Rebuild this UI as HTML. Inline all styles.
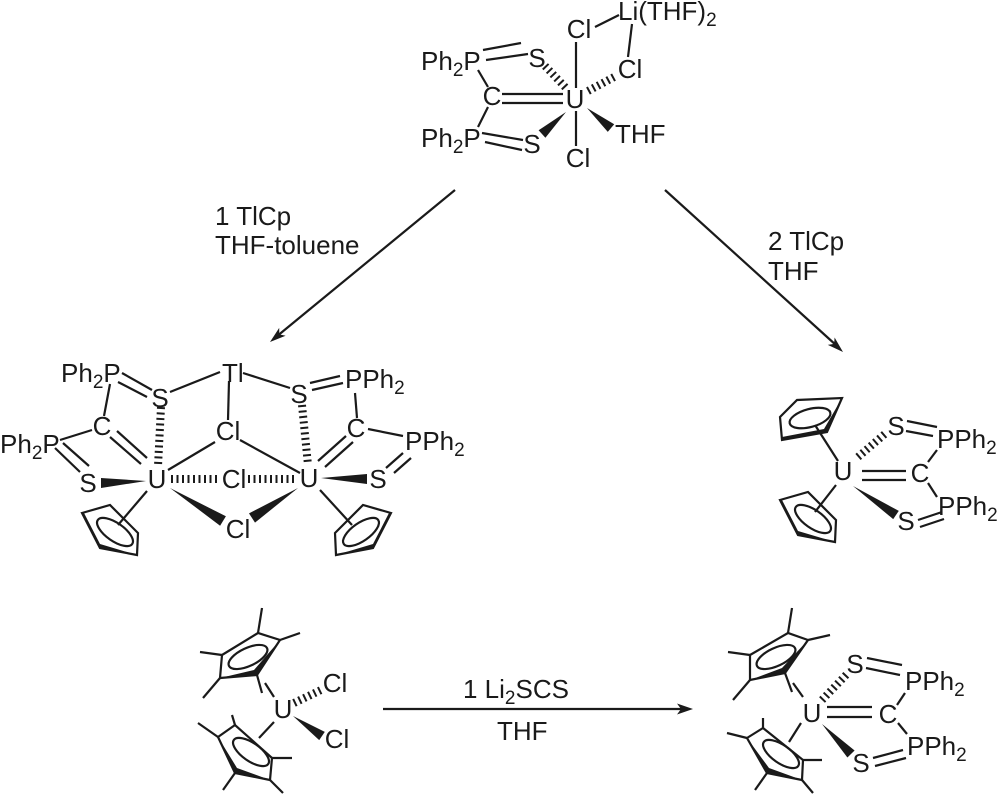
<!DOCTYPE html>
<html><head><meta charset="utf-8"><style>
html,body{margin:0;padding:0;background:#fff;}
svg{display:block;}
text{font-family:"Liberation Sans",Arial,sans-serif;font-size:26px;fill:#1a1a1a;}
.s{font-size:19px;}
</style></head><body>
<svg width="1000" height="796" viewBox="0 0 1000 796" xmlns="http://www.w3.org/2000/svg">
<g stroke="#1a1a1a" stroke-width="2.2" fill="none" stroke-linecap="butt">
<!-- ===== TOP ===== -->
<line x1="483" y1="50" x2="521" y2="43"/>
<line x1="486" y1="60" x2="528" y2="54"/>
<line x1="502" y1="94" x2="563" y2="94"/>
<line x1="502" y1="103" x2="563" y2="103"/>
<line x1="482" y1="133" x2="523" y2="140"/>
<line x1="485" y1="142" x2="522" y2="150"/>
<line x1="478" y1="70" x2="488" y2="87"/>
<line x1="488" y1="107" x2="478" y2="127"/>
<line x1="576" y1="42" x2="576" y2="88"/>
<line x1="576" y1="111" x2="576" y2="146"/>
<line x1="595" y1="27" x2="619" y2="15"/>
<line x1="632" y1="24" x2="628" y2="57"/>
<line x1="545" y1="66" x2="566" y2="88" stroke-width="8" stroke-dasharray="2 3.5"/>
<line x1="588" y1="91" x2="616" y2="76" stroke-width="8" stroke-dasharray="2 3.5"/>

<!-- ===== ARROWS ===== -->
<line x1="455" y1="190" x2="276" y2="337"/>
<line x1="665" y1="190" x2="837" y2="346"/>
<line x1="383" y1="709" x2="685" y2="709"/>

<!-- ===== LEFT DIMER ===== -->
<line x1="122" y1="373" x2="152" y2="390"/>
<line x1="118" y1="382" x2="147" y2="397"/>
<line x1="170" y1="392" x2="220" y2="372"/>
<line x1="229" y1="381" x2="228" y2="420"/>
<line x1="110" y1="384" x2="104" y2="416"/>
<line x1="92" y1="430" x2="60" y2="440"/>
<line x1="55" y1="448" x2="80" y2="472"/>
<line x1="63" y1="443" x2="89" y2="466"/>
<line x1="110" y1="437" x2="141" y2="464"/>
<line x1="117" y1="431" x2="147" y2="458"/>
<line x1="168" y1="470" x2="215" y2="442"/>
<line x1="147" y1="491" x2="118" y2="525"/>
<line x1="243" y1="373" x2="290" y2="388"/>
<line x1="240" y1="440" x2="300" y2="473"/>
<line x1="310" y1="383" x2="340" y2="376"/>
<line x1="312" y1="390" x2="343" y2="383"/>
<line x1="355" y1="393" x2="357" y2="418"/>
<line x1="368" y1="429" x2="403" y2="436"/>
<line x1="403" y1="453" x2="386" y2="468"/>
<line x1="411" y1="458" x2="394" y2="473"/>
<line x1="346" y1="436" x2="318" y2="461"/>
<line x1="353" y1="442" x2="325" y2="467"/>
<line x1="320" y1="490" x2="352" y2="525"/>
<line x1="161" y1="407" x2="158" y2="466" stroke-width="8" stroke-dasharray="2 3.5"/>
<line x1="171" y1="479" x2="220" y2="479" stroke-width="8" stroke-dasharray="2 3.5"/>
<line x1="248" y1="479" x2="297" y2="479" stroke-width="8" stroke-dasharray="2 3.5"/>
<line x1="302" y1="405" x2="308" y2="465" stroke-width="8" stroke-dasharray="2 3.5"/>
<!-- Cp left -->
<polygon points="82,513 110,505 138,533 137,555 100,548"/>
<ellipse cx="115" cy="532" rx="21" ry="9" transform="rotate(35 115 532)"/>
<!-- Cp right -->
<polygon points="391,513 363,505 335,533 336,555 373,548"/>
<ellipse cx="361" cy="532" rx="21" ry="9" transform="rotate(-35 361 532)"/>

<!-- ===== RIGHT Cp COMPLEX ===== -->
<line x1="907" y1="421" x2="937" y2="427"/>
<line x1="906" y1="431" x2="933" y2="436"/>
<line x1="862" y1="471" x2="906" y2="471"/>
<line x1="862" y1="480" x2="906" y2="480"/>
<line x1="928" y1="462" x2="937" y2="450"/>
<line x1="928" y1="483" x2="937" y2="497"/>
<line x1="918" y1="520" x2="942" y2="512"/>
<line x1="920" y1="527" x2="944" y2="519"/>
<line x1="838" y1="461" x2="815" y2="425"/>
<line x1="836" y1="485" x2="815" y2="512"/>
<line x1="858" y1="457" x2="886" y2="433" stroke-width="8" stroke-dasharray="2 3.5"/>
<polygon points="780,417 797,400 842,398 827,432 782,440"/>
<ellipse cx="810" cy="418" rx="21" ry="9" transform="rotate(-15 810 418)"/>
<polygon points="780,500 808,492 836,520 835,542 798,535"/>
<ellipse cx="813" cy="519" rx="21" ry="9" transform="rotate(35 813 519)"/>

<!-- ===== BOTTOM LEFT Cp* ===== -->
<line x1="274" y1="697" x2="265" y2="683"/>
<line x1="274" y1="722" x2="259" y2="738"/>
<line x1="294" y1="703" x2="321" y2="690" stroke-width="8" stroke-dasharray="2 3.5"/>
<polygon points="222,655 258,633 280,640 257,675 220,678"/>
<ellipse cx="248" cy="657" rx="21" ry="9" transform="rotate(-25 248 657)"/>
<line x1="258" y1="633" x2="262" y2="608"/>
<line x1="280" y1="640" x2="300" y2="633"/>
<line x1="222" y1="655" x2="200" y2="652"/>
<line x1="220" y1="678" x2="203" y2="698"/>
<line x1="257" y1="675" x2="262" y2="693"/>
<polygon points="218,737 235,725 272,758 270,780 235,773"/>
<ellipse cx="251" cy="752" rx="21" ry="9" transform="rotate(35 251 752)"/>
<line x1="218" y1="737" x2="198" y2="723"/>
<line x1="235" y1="725" x2="232" y2="715"/>
<line x1="272" y1="758" x2="292" y2="758"/>
<line x1="270" y1="780" x2="283" y2="793"/>
<line x1="235" y1="773" x2="223" y2="790"/>

<!-- ===== BOTTOM RIGHT ===== -->
<line x1="867" y1="658" x2="902" y2="665"/>
<line x1="866" y1="668" x2="900" y2="675"/>
<line x1="827" y1="707" x2="872" y2="707"/>
<line x1="827" y1="717" x2="872" y2="717"/>
<line x1="897" y1="705" x2="905" y2="693"/>
<line x1="898" y1="723" x2="907" y2="734"/>
<line x1="873" y1="758" x2="903" y2="750"/>
<line x1="875" y1="766" x2="906" y2="758"/>
<line x1="803" y1="697" x2="793" y2="683"/>
<line x1="801" y1="723" x2="789" y2="742"/>
<line x1="822" y1="700" x2="847" y2="674" stroke-width="8" stroke-dasharray="2 3.5"/>
<polygon points="750,655 788,633 808,640 785,673 750,680"/>
<ellipse cx="776" cy="657" rx="21" ry="9" transform="rotate(-25 776 657)"/>
<line x1="788" y1="633" x2="792" y2="608"/>
<line x1="808" y1="640" x2="830" y2="635"/>
<line x1="750" y1="655" x2="728" y2="652"/>
<line x1="750" y1="680" x2="733" y2="700"/>
<line x1="785" y1="673" x2="792" y2="692"/>
<polygon points="747,738 763,728 803,760 802,780 767,773"/>
<ellipse cx="781" cy="754" rx="21" ry="9" transform="rotate(35 781 754)"/>
<line x1="747" y1="738" x2="727" y2="733"/>
<line x1="763" y1="728" x2="763" y2="718"/>
<line x1="803" y1="760" x2="822" y2="760"/>
<line x1="802" y1="780" x2="813" y2="793"/>
<line x1="767" y1="773" x2="755" y2="790"/>
</g>

<!-- filled wedges, bold ring edges, arrowheads -->
<g fill="#1a1a1a" stroke="none">
<polygon points="566,112 538.6,130.3 545.4,137.7"/>
<polygon points="587,108 607.8,131.9 614.2,124.2"/>
<polygon points="146,481 101,478 101,488"/>
<polygon points="170,488 220.1,525.7 225.9,516.3"/>
<polygon points="298,488 249,513.4 255,522.6"/>
<polygon points="321,478 367,474 367,484"/>
<polygon points="853,486 893.2,519.1 898.8,510.9"/>
<polygon points="293,716 319.2,740.1 324.8,731.9"/>
<polygon points="822,724 847.4,757.5 854.6,750.5"/>
<!-- arrowheads -->
<polygon points="270,342 279.2,327.9 279.3,334.4 285.6,335.7"/>
<polygon points="843,352 827.8,344.9 834.1,343.9 834.6,337.5"/>
<polygon points="693,709 677,703.5 681,709 677,714.5"/>
<!-- bold Cp edges -->
<polygon points="82,513 100,548 137,555 100,544 84,513"/>
<polygon points="391,513 373,548 336,555 373,544 389,513"/>
<polygon points="782,440 827,432 842,398 824,429 782,437"/>
<polygon points="780,500 798,535 835,542 798,531 782,500"/>
<polygon points="220,678 257,675 280,640 254,670"/>
<polygon points="218,737 235,773 270,780 237,768"/>
<polygon points="750,680 785,673 808,640 782,668"/>
<polygon points="747,738 767,773 802,780 769,768"/>
</g>

<!-- ===== TEXT ===== -->
<g>
<!-- top -->
<text x="421" y="70">Ph<tspan class="s" dy="6">2</tspan><tspan dy="-6">P</tspan></text>
<text x="537" y="67" text-anchor="middle">S</text>
<text x="492" y="105" text-anchor="middle">C</text>
<text x="575" y="108" text-anchor="middle">U</text>
<text x="421" y="147">Ph<tspan class="s" dy="6">2</tspan><tspan dy="-6">P</tspan></text>
<text x="532" y="153" text-anchor="middle">S</text>
<text x="579" y="38" text-anchor="middle">Cl</text>
<text x="630" y="78" text-anchor="middle">Cl</text>
<text x="578" y="167" text-anchor="middle">Cl</text>
<text x="615" y="143">THF</text>
<text x="618" y="20">Li(THF)<tspan class="s" dy="6">2</tspan></text>

<!-- arrow labels -->
<text x="215" y="225">1 TlCp</text>
<text x="215" y="254">THF-toluene</text>
<text x="768" y="250">2 TlCp</text>
<text x="768" y="280">THF</text>
<text x="463" y="698">1 Li<tspan class="s" dy="6">2</tspan><tspan dy="-6">SCS</tspan></text>
<text x="497" y="740">THF</text>

<!-- left dimer -->
<text x="61" y="382">Ph<tspan class="s" dy="6">2</tspan><tspan dy="-6">P</tspan></text>
<text x="160" y="407" text-anchor="middle">S</text>
<text x="222" y="382">Tl</text>
<text x="228" y="440" text-anchor="middle">Cl</text>
<text x="102" y="435" text-anchor="middle">C</text>
<text x="0" y="453">Ph<tspan class="s" dy="6">2</tspan><tspan dy="-6">P</tspan></text>
<text x="88" y="492" text-anchor="middle">S</text>
<text x="157" y="488" text-anchor="middle">U</text>
<text x="234" y="488" text-anchor="middle">Cl</text>
<text x="238" y="538" text-anchor="middle">Cl</text>
<text x="309" y="487" text-anchor="middle">U</text>
<text x="299" y="403" text-anchor="middle">S</text>
<text x="345" y="388">PPh<tspan class="s" dy="6">2</tspan></text>
<text x="356" y="437" text-anchor="middle">C</text>
<text x="405" y="450">PPh<tspan class="s" dy="6">2</tspan></text>
<text x="378" y="488" text-anchor="middle">S</text>

<!-- right Cp complex -->
<text x="843" y="480" text-anchor="middle">U</text>
<text x="896" y="435" text-anchor="middle">S</text>
<text x="937" y="448">PPh<tspan class="s" dy="6">2</tspan></text>
<text x="920" y="482" text-anchor="middle">C</text>
<text x="938" y="515">PPh<tspan class="s" dy="6">2</tspan></text>
<text x="906" y="530" text-anchor="middle">S</text>

<!-- bottom left -->
<text x="283" y="718" text-anchor="middle">U</text>
<text x="335" y="692" text-anchor="middle">Cl</text>
<text x="337" y="748" text-anchor="middle">Cl</text>

<!-- bottom right -->
<text x="812" y="722" text-anchor="middle">U</text>
<text x="855" y="673" text-anchor="middle">S</text>
<text x="905" y="690">PPh<tspan class="s" dy="6">2</tspan></text>
<text x="888" y="723" text-anchor="middle">C</text>
<text x="907" y="755">PPh<tspan class="s" dy="6">2</tspan></text>
<text x="861" y="772" text-anchor="middle">S</text>
</g>
</svg>
</body></html>
